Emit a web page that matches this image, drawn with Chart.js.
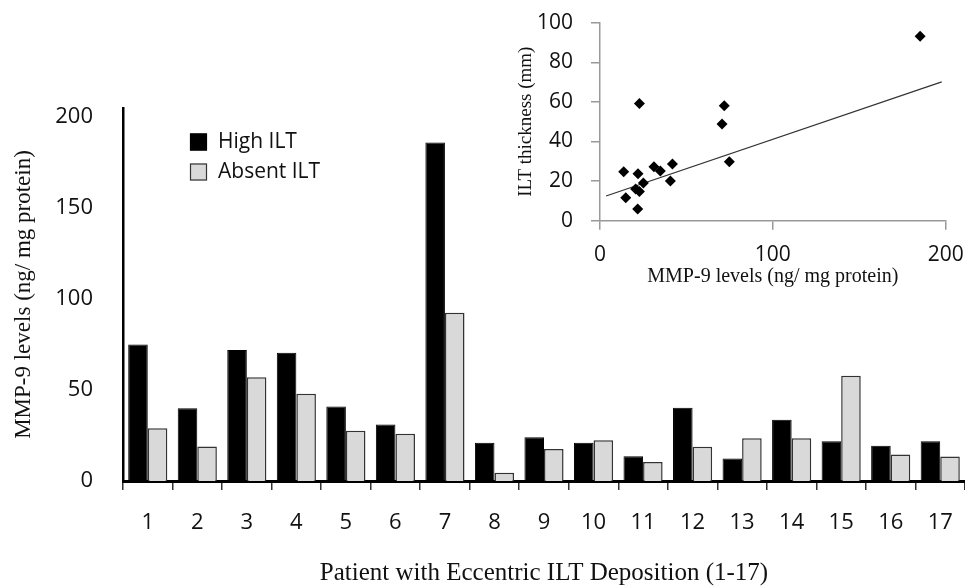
<!DOCTYPE html>
<html>
<head>
<meta charset="utf-8">
<script src="https://cdn.jsdelivr.net/npm/chart.js@4"></script>
<style>
  body { margin: 0; background: #fff; }
  #wrap { position: relative; width: 965px; height: 586px; overflow: hidden; }
  #barChart { position: absolute; left: 0; top: 0; }
  #scatterChart { position: absolute; left: 500px; top: 0; }
</style>
</head>
<body>
<div id="wrap">
  <canvas id="barChart" width="965" height="586"></canvas>
  <canvas id="scatterChart" width="465" height="295"></canvas>
</div>
<script>
// Bar chart: MMP-9 per patient
var patients = ['1', '2', '3', '4', '5', '6', '7', '8', '9', '10', '11', '12', '13', '14', '15', '16', '17'];
var highILT = [75, 40, 72, 70.5, 41, 31, 186, 21, 24, 21, 13.6, 40.3, 12.3, 33.7, 21.8, 19.4, 21.8];
var absentILT = [29, 19, 57, 48, 27.6, 26, 92.5, 4.6, 17.6, 22.4, 10.4, 18.8, 23.5, 23.5, 57.9, 14.5, 13.4];
var yTicks = [0, 50, 100, 150, 200];

// Inset: MMP-9 levels vs ILT thickness
var mmpLevels = [185.2, 22.8, 71.9, 70.6, 74.8, 13.7, 22, 31.2, 34.9, 41.9, 40.7, 25.1, 20.6, 22.8, 14.9, 21.8];
var iltThickness = [93.1, 59.2, 58, 48.8, 29.8, 24.7, 23.7, 27.2, 25.1, 28.6, 20, 19, 16, 14.8, 11.6, 5.9];
var trendX = [3.5, 197.7];
var trendY = [12.5, 70.1];

var sans = '"Open Sans", sans-serif';
var serif = '"Liberation Serif", "Times New Roman", serif';

// fixed axis size, and no extra room for overhanging tick labels
function fixSize(w, h) {
  return function (s) {
    if (w != null) s.width = w;
    if (h != null) s.height = h;
    s.paddingTop = 0; s.paddingBottom = 0; s.paddingLeft = 0; s.paddingRight = 0;
  };
}

// legend drawn inside the plot area
const insideLegend = {
  id: 'insideLegend',
  afterDraw(chart) {
    const ctx = chart.ctx;
    ctx.save();
    ctx.font = '21px ' + sans;
    ctx.textBaseline = 'middle';
    chart.data.datasets.forEach((ds, i) => {
      const y = 142 + i * 30;
      ctx.fillStyle = ds.backgroundColor;
      ctx.fillRect(190, y - 8.5, 17, 17);
      ctx.strokeStyle = ds.borderColor;
      ctx.lineWidth = 1.2;
      ctx.strokeRect(190.5, y - 8, 16, 16);
      ctx.fillStyle = '#111';
      ctx.fillText(ds.label, 218, y);
    });
    ctx.restore();
  }
};

new Chart(document.getElementById('barChart'), {
  type: 'bar',
  data: {
    labels: patients,
    datasets: [{
      label: 'High ILT',
      data: highILT,
      backgroundColor: '#000',
      borderColor: '#000',
      borderWidth: 1
    }, {
      label: 'Absent ILT',
      data: absentILT,
      backgroundColor: '#d9d9d9',
      borderColor: '#333',
      borderWidth: 1.5
    }]
  },
  options: {
    responsive: false,
    animation: false,
    categoryPercentage: 0.79,
    barPercentage: 1.0,
    layout: { padding: { top: 108, left: 0, right: 0, bottom: 0 } },
    plugins: { legend: { display: false }, tooltip: { enabled: false } },
    scales: {
      x: {
        afterFit: fixSize(null, 105),
        grid: { display: true, drawOnChartArea: false, drawTicks: true, tickLength: 9, offset: true, color: '#333', lineWidth: 1.5 },
        border: { display: true, color: '#000', width: 3 },
        ticks: { color: '#111', font: { family: sans, size: 22 }, padding: 20 },
        title: { display: true, text: 'Patient with Eccentric ILT Deposition (1-17)', color: '#111',
                 font: { family: serif, size: 25, lineHeight: 1 }, padding: { top: 0, bottom: 0 } }
      },
      y: {
        min: 0,
        max: 205,
        afterFit: fixSize(123, null),
        afterBuildTicks: function (s) { s.ticks = yTicks.map(v => ({ value: v })); },
        grid: { display: false, drawTicks: false },
        border: { display: true, color: '#000', width: 2.5 },
        ticks: { color: '#111', font: { family: sans, size: 22 }, padding: 30 },
        title: { display: true, text: 'MMP-9 levels (ng/ mg protein)', color: '#111',
                 font: { family: serif, size: 23, lineHeight: 1 }, padding: { top: 12, bottom: 12 } }
      }
    }
  },
  plugins: [insideLegend]
});

new Chart(document.getElementById('scatterChart'), {
  type: 'scatter',
  data: {
    datasets: [{
      label: 'Patients',
      data: mmpLevels.map((x, i) => ({ x: x, y: iltThickness[i] })),
      pointStyle: 'rectRot',
      pointRadius: 5.5,
      backgroundColor: '#000',
      borderColor: '#000',
      borderWidth: 0
    }, {
      type: 'line',
      label: 'Trend',
      data: trendX.map((x, i) => ({ x: x, y: trendY[i] })),
      borderColor: '#333',
      borderWidth: 1.2,
      pointRadius: 0,
      fill: false
    }]
  },
  options: {
    responsive: false,
    animation: false,
    layout: { padding: { top: 22.7, left: 0, right: 19.3, bottom: 0 } },
    plugins: { legend: { display: false }, tooltip: { enabled: false } },
    scales: {
      x: {
        type: 'linear',
        min: 0,
        max: 200,
        afterFit: fixSize(null, 74.3),
        grid: { display: true, drawOnChartArea: false, tickLength: 9, color: '#999', lineWidth: 1.5 },
        border: { display: true, color: '#999', width: 1.5 },
        ticks: { stepSize: 100, color: '#111', font: { family: sans, size: 21 }, padding: 13 },
        title: { display: true, text: 'MMP-9 levels (ng/ mg protein)', color: '#111',
                 font: { family: serif, size: 20, lineHeight: 1 }, padding: { top: 0, bottom: 8 } }
      },
      y: {
        min: 0,
        max: 100,
        afterFit: fixSize(100, null),
        grid: { display: true, drawOnChartArea: false, tickLength: 9, color: '#999', lineWidth: 1.5 },
        border: { display: true, color: '#999', width: 1.5 },
        ticks: { stepSize: 20, color: '#111', font: { family: sans, size: 21 }, padding: 18 },
        title: { display: true, text: 'ILT thickness (mm)', color: '#111',
                 font: { family: serif, size: 19, lineHeight: 1 }, padding: { top: 17, bottom: 17 } }
      }
    }
  }
});
</script>
</body>
</html>
